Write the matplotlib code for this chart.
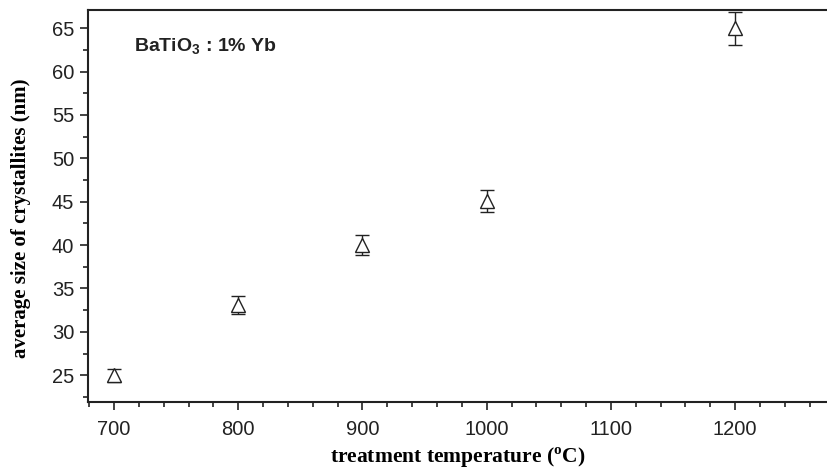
import numpy as np
import matplotlib.pyplot as plt
from matplotlib.ticker import MultipleLocator

# Data
temperature = [700, 800, 900, 1000, 1200]
size_nm = [25.0, 33.1, 40.0, 45.1, 65.0]
size_err = [0.75, 1.0, 1.2, 1.3, 1.9]

plt.rcParams.update({'font.family': 'Liberation Sans', 'font.size': 14.5})

fig = plt.figure(figsize=(8.28, 4.72), dpi=100)
ax = fig.add_axes([0.1063, 0.148, 0.894, 0.831])

ax.errorbar(temperature, size_nm, yerr=size_err, fmt='none',
            ecolor='#222222', elinewidth=1.0, capsize=5, capthick=1.0, zorder=2)
ax.plot(temperature, size_nm, '^', ms=10, mfc='white', mec='#222222',
        mew=1.0, ls='none', zorder=3)

ax.set_xlim(679, 1275)
ax.set_ylim(21.9, 67.1)
ax.xaxis.set_major_locator(MultipleLocator(100))
ax.xaxis.set_minor_locator(MultipleLocator(20))
ax.yaxis.set_major_locator(MultipleLocator(5))
ax.yaxis.set_minor_locator(MultipleLocator(2.5))
ax.tick_params(which='major', direction='out', length=6, width=1.2, colors='#222222')
ax.tick_params(which='minor', direction='out', length=3.5, width=1.2, colors='#222222')
ax.tick_params(axis='x', pad=7)
ax.tick_params(axis='y', pad=4)
for s in ['left', 'bottom', 'top']:
    ax.spines[s].set_linewidth(1.5)
    ax.spines[s].set_color('#222222')
ax.spines['right'].set_visible(False)

ax.set_xlabel('treatment temperature ($^{\\mathregular{o}}$C)',
              family='Liberation Serif', fontweight='bold', fontsize=15.5)
ax.xaxis.set_label_coords(0.5, -0.11)
ax.xaxis.label.set_va('top')
ax.set_ylabel('average size of crystallites (nm)',
              family='Liberation Serif', fontweight='bold', fontsize=15)
ax.yaxis.set_label_coords(-0.077, 0.47)

ax.text(0.062, 0.905, 'BaTiO$_{\\mathregular{3}}$ : 1% Yb', transform=ax.transAxes,
        fontsize=14, fontweight='bold', va='center', ha='left', color='#222222')

fig.savefig('out.png', dpi=100)
